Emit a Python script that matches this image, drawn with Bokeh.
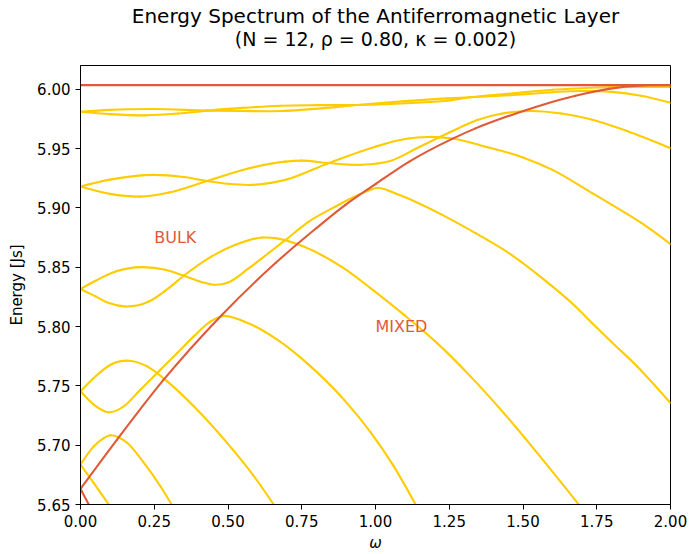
from bokeh.plotting import figure
from bokeh.models import Range1d, FixedTicker, PrintfTickFormatter, Label, Title
from bokeh.embed import file_html
from bokeh.resources import INLINE

RED = "#E05A3A"
YEL = "#FFCC00"
FONT = "DejaVu Sans"

title_line1 = "Energy Spectrum of the Antiferromagnetic Layer"
title_line2 = "(N = 12, ρ = 0.80, κ = 0.002)"

x_ticks = [0.0, 0.25, 0.5, 0.75, 1.0, 1.25, 1.5, 1.75, 2.0]
y_ticks = [5.65, 5.70, 5.75, 5.80, 5.85, 5.90, 5.95, 6.00]

# --- red (mixed / surface) branches ---
r_top_x = [0.0, 2.0]
r_top_y = [6.0035, 6.0035]

r_rise_x = [0, 0.124, 0.282, 0.48, 0.661, 0.8, 0.898, 1.0,
            1.113, 1.26, 1.339, 1.452, 1.565, 1.678, 1.791, 1.904, 2.0]
r_rise_y = [5.6632, 5.7047, 5.7552, 5.81, 5.8535, 5.883,
            5.9025, 5.920, 5.9388, 5.9582, 5.967, 5.9775, 5.9868, 5.9945, 6.0003,
            6.0031, 6.0035]

r_low_x = [0.0, 0.028]
r_low_y = [5.6632, 5.65]

# --- yellow (bulk) branches ---
a1_x = [0, 0.1, 0.25, 0.43, 0.55, 0.678, 0.8, 0.938, 1.1, 1.243, 1.32, 1.469, 1.6, 1.7,
        1.8, 1.9, 2.0]
a1_y = [5.981, 5.9826, 5.9833, 5.982, 5.9816, 5.9816, 5.9835, 5.9867, 5.9900, 5.9923,
        5.9932, 5.9951, 5.9975, 5.9985, 5.9978, 5.9945, 5.9886]

a2_x = [0, 0.1, 0.22, 0.33, 0.43, 0.55, 0.678, 0.8, 0.938, 1.1, 1.243, 1.32, 1.469, 1.6,
        1.75, 1.9, 2.0]
a2_y = [5.981, 5.9790, 5.9780, 5.9795, 5.982, 5.9843, 5.9861, 5.9866, 5.9867, 5.9882,
        5.9903, 5.9932, 5.9966, 5.9995, 6.0015, 6.0020, 6.0020]

b1_x = [0, 0.1, 0.249, 0.35, 0.429, 0.5, 0.582, 0.695, 0.84, 1.0, 1.1, 1.18, 1.26, 1.373,
        1.5, 1.6, 1.734, 1.802, 1.9, 2.0]
b1_y = [5.918, 5.9238, 5.9278, 5.926, 5.9227, 5.9203, 5.9194, 5.9236, 5.9376, 5.9516,
        5.958, 5.9598, 5.9585, 5.9516, 5.9425, 5.932, 5.9125, 5.9025, 5.8875, 5.8695]

b2_x = [0, 0.1, 0.203, 0.3, 0.429, 0.55, 0.695, 0.75, 0.84, 0.955, 1.05, 1.15, 1.25,
        1.345, 1.43, 1.525, 1.63, 1.729, 1.85, 2.0]
b2_y = [5.918, 5.9118, 5.9095, 5.913, 5.9227, 5.932, 5.939, 5.9398, 5.9378, 5.9363,
        5.9395, 5.9515, 5.9635, 5.9741, 5.9795, 5.9816, 5.9795, 5.9747, 5.965, 5.9503]

c1_x = [0, 0.051, 0.119, 0.209, 0.288, 0.35, 0.412, 0.452, 0.503, 0.571, 0.638, 0.695,
        0.774, 0.864, 0.943, 1.007, 1.079, 1.226, 1.339, 1.452, 1.565, 1.678, 1.734, 1.8,
        1.887, 2.0]
c1_y = [5.8316, 5.8386, 5.8464, 5.8501, 5.8478, 5.8428, 5.8374, 5.8352, 5.8374, 5.8492,
        5.862, 5.873, 5.8885, 5.9011, 5.911, 5.9168, 5.911, 5.8941, 5.8787, 5.8619, 5.8408,
        5.8169, 5.803, 5.787, 5.7664, 5.7356]

c2_x = [0, 0.051, 0.096, 0.153, 0.232, 0.299, 0.35, 0.435, 0.525, 0.616, 0.661, 0.75,
        0.887, 0.983, 1.096, 1.209, 1.322, 1.435, 1.548, 1.689]
c2_y = [5.8316, 5.8254, 5.8198, 5.8169, 5.8211, 5.8324, 5.8428, 5.8577, 5.8689, 5.875,
        5.8745, 5.868, 5.850, 5.8324, 5.81, 5.786, 5.758, 5.727, 5.6935, 5.65]

d1_x = [0, 0.045, 0.102, 0.164, 0.226, 0.294, 0.384, 0.497, 0.588, 0.655]
d1_y = [5.7454, 5.7566, 5.7678, 5.7712, 5.7664, 5.7538, 5.7328, 5.7019, 5.6738, 5.65]

d2_x = [0, 0.045, 0.096, 0.147, 0.203, 0.271, 0.328, 0.384, 0.441, 0.475, 0.554, 0.667,
        0.78, 0.893, 0.983, 1.06, 1.136]
d2_y = [5.7454, 5.7342, 5.7277, 5.7328, 5.7468, 5.7636, 5.7777, 5.7917, 5.8043, 5.8085,
        5.8043, 5.7889, 5.7664, 5.7384, 5.711, 5.683, 5.65]

e1_x = [0, 0.045, 0.079, 0.1017, 0.13, 0.158, 0.215, 0.271, 0.309]
e1_y = [5.6837, 5.699, 5.706, 5.7083, 5.7065, 5.702, 5.685, 5.6654, 5.65]

e2_x = [0, 0.045, 0.096]
e2_y = [5.6837, 5.668, 5.65]

bulk_label = ("BULK", 0.25, 5.875)
mixed_label = ("MIXED", 1.0, 5.80)


def smooth_segments(xs, ys):
    """Cubic (Hermite) Bezier control points through the read points."""
    n = len(xs)
    h = [xs[i + 1] - xs[i] for i in range(n - 1)]
    d = [(ys[i + 1] - ys[i]) / h[i] for i in range(n - 1)]
    m = [0.0] * n
    if n == 2:
        m = [d[0], d[0]]
    else:
        for i in range(1, n - 1):
            m[i] = (d[i - 1] * h[i] + d[i] * h[i - 1]) / (h[i - 1] + h[i])
        m[0] = (3 * d[0] - m[1]) / 2
        m[-1] = (3 * d[-1] - m[-2]) / 2
    seg = dict(x0=[], y0=[], x1=[], y1=[], cx0=[], cy0=[], cx1=[], cy1=[])
    for i in range(n - 1):
        seg["x0"].append(xs[i]); seg["y0"].append(ys[i])
        seg["x1"].append(xs[i + 1]); seg["y1"].append(ys[i + 1])
        seg["cx0"].append(xs[i] + h[i] / 3); seg["cy0"].append(ys[i] + m[i] * h[i] / 3)
        seg["cx1"].append(xs[i + 1] - h[i] / 3); seg["cy1"].append(ys[i + 1] - m[i + 1] * h[i] / 3)
    return seg


p = figure(width=690, height=554,
           x_range=Range1d(0, 2), y_range=Range1d(5.65, 6.02),
           min_border_left=80, min_border_right=20,
           min_border_top=65, min_border_bottom=49,
           output_backend="svg", toolbar_location=None,
           title=title_line1)

# outer title line
p.title.align = "center"
p.title.text_font = FONT
p.title.text_font_style = "normal"
p.title.text_font_size = "20px"
p.title.text_color = "black"
p.title.standoff = -37

# inner title line (closest to the frame)
t2 = Title(text=title_line2, align="center", text_font=FONT, text_font_style="normal",
           text_font_size="19px", text_color="black", standoff=32)
p.add_layout(t2, "above")

p.xgrid.visible = False
p.ygrid.visible = False
p.background_fill_color = "white"
p.border_fill_color = "white"
p.outline_line_color = "black"
p.outline_line_width = 1
p.outline_line_alpha = 1

for ax in (p.xaxis, p.yaxis):
    ax.axis_line_color = "black"
    ax.axis_line_width = 1
    ax.major_tick_line_color = "black"
    ax.major_tick_out = 5
    ax.major_tick_in = 0
    ax.minor_tick_line_color = None
    ax.major_label_text_font = FONT
    ax.major_label_text_font_size = "15px"
    ax.major_label_text_color = "black"
    ax.axis_label_text_font = FONT
    ax.axis_label_text_font_size = "15px"
    ax.axis_label_text_color = "black"
    ax.formatter = PrintfTickFormatter(format="%.2f")

p.xaxis.ticker = FixedTicker(ticks=x_ticks)
p.yaxis.ticker = FixedTicker(ticks=y_ticks)
p.xaxis.axis_label = "ω"
p.xaxis.axis_label_text_font_style = "italic"
p.xaxis.axis_label_standoff = 4
p.yaxis.axis_label = "Energy [Js]"
p.yaxis.axis_label_text_font_style = "normal"
p.yaxis.axis_label_standoff = 8

yellow = [(a1_x, a1_y), (a2_x, a2_y), (b1_x, b1_y), (b2_x, b2_y), (c1_x, c1_y),
          (c2_x, c2_y), (d1_x, d1_y), (d2_x, d2_y), (e1_x, e1_y), (e2_x, e2_y)]
red = [(r_top_x, r_top_y), (r_rise_x, r_rise_y), (r_low_x, r_low_y)]

for curves, col in ((yellow, YEL), (red, RED)):
    for xs, ys in curves:
        s = smooth_segments(xs, ys)
        p.bezier(x0=s["x0"], y0=s["y0"], x1=s["x1"], y1=s["y1"],
                 cx0=s["cx0"], cy0=s["cy0"], cx1=s["cx1"], cy1=s["cy1"],
                 line_color=col, line_width=2.1, line_cap="round")

for txt, lx, ly in (bulk_label, mixed_label):
    p.add_layout(Label(x=lx, y=ly, text=txt, text_color=RED, text_font=FONT,
                       text_font_size="16px", text_baseline="middle", text_align="left"))

open("out.html", "w").write(file_html(p, INLINE))
